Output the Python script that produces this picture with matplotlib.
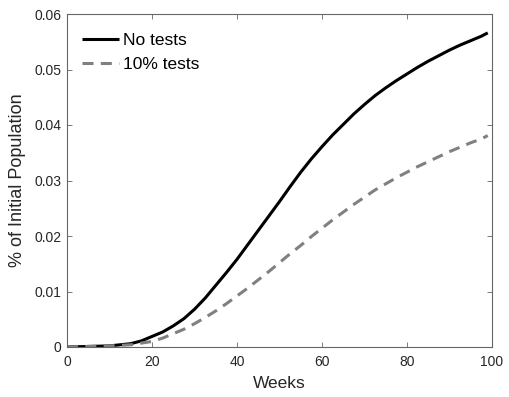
import matplotlib
matplotlib.use("Agg")
import matplotlib.pyplot as plt

plt.rcParams['font.family'] = ['Liberation Sans', 'DejaVu Sans']

weeks = [0, 2.5, 5, 7.5, 10, 12.5, 15, 17.5, 20, 22.5, 25, 27.5, 30, 32.5, 35, 37.5, 40, 42.5,
         45, 47.5, 50, 52.5, 55, 57.5, 60, 62.5, 65, 67.5, 70, 72.5, 75, 77.5, 80, 82.5,
         85, 87.5, 90, 92.5, 95, 97.5, 99]
no_tests = [0.0000, 0.00005, 0.0001, 0.00015, 0.0002, 0.0004, 0.0006, 0.0011, 0.0019, 0.0027,
            0.0038, 0.0051, 0.0068, 0.0088, 0.0111, 0.0134, 0.0158, 0.0184,
            0.0210, 0.0236, 0.0262, 0.0289, 0.0315, 0.0339, 0.0361, 0.0382, 0.0401, 0.0420,
            0.0437, 0.0453, 0.0467, 0.0480, 0.0492, 0.0504,
            0.0515, 0.0525, 0.0535, 0.0544, 0.0552, 0.0560, 0.0566]
tests_10 = [0.0000, 0.00004, 0.0001, 0.00013, 0.0002, 0.0003, 0.0004, 0.0007, 0.0010, 0.0016,
            0.0024, 0.0032, 0.0042, 0.0053, 0.0065, 0.0078, 0.0092, 0.0106,
            0.0121, 0.0136, 0.0152, 0.0168, 0.0183, 0.0199, 0.0214, 0.0229, 0.0243, 0.0257,
            0.0270, 0.0283, 0.0294, 0.0305, 0.0315, 0.0325,
            0.0334, 0.0343, 0.0352, 0.0360, 0.0368, 0.0375, 0.0381]
series_labels = ["No tests", "10% tests"]
xticks = [0, 20, 40, 60, 80, 100]
yticks = [0, 0.01, 0.02, 0.03, 0.04, 0.05, 0.06]
ytick_labels = ["0", "0.01", "0.02", "0.03", "0.04", "0.05", "0.06"]

fig = plt.figure(figsize=(5.1, 3.97), dpi=100)
ax = fig.add_axes([67/510, 50/397, 425/510, 333/397])

ax.plot(weeks, no_tests, color='black', lw=2.2, label=series_labels[0], solid_capstyle='butt')
ax.plot(weeks, tests_10, color='#808080', lw=2.2, dashes=(3.6, 2.4), label=series_labels[1])

ax.set_xlim(0, 100)
ax.set_ylim(0, 0.06)
ax.set_xticks(xticks)
ax.set_xticklabels([str(t) for t in xticks])
ax.set_yticks(yticks)
ax.set_yticklabels(ytick_labels)

axis_col = '#666666'
for s in ax.spines.values():
    s.set_color(axis_col)
    s.set_linewidth(0.8)
ax.tick_params(direction='in', top=True, right=True, length=3.5, width=0.6,
               color=axis_col, labelcolor='#262626', labelsize=10, pad=4)
ax.tick_params(axis='x', pad=6)

ax.set_xlabel("Weeks", fontsize=12.5, color='#262626', labelpad=5)
ax.set_ylabel("% of Initial Population", fontsize=13, color='#262626', labelpad=6)

leg = ax.legend(loc='upper left', bbox_to_anchor=(0.02, 0.965), frameon=False,
                fontsize=12.5, handlelength=2.1, handletextpad=0.25, labelspacing=0.5,
                borderaxespad=0)
for t in leg.get_texts():
    t.set_color('black')

fig.savefig("out.png", dpi=100)
